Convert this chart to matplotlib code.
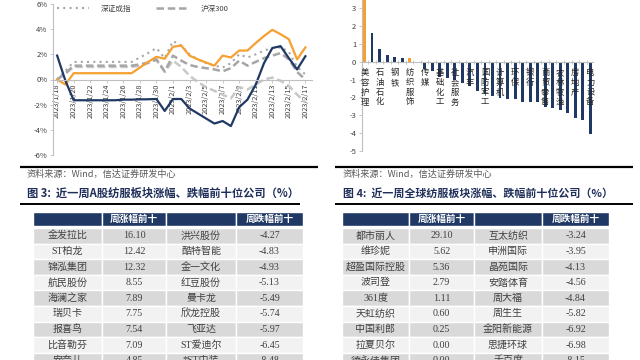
import numpy as np
import pandas as pd
import matplotlib
matplotlib.use('Agg')
import matplotlib.pyplot as plt
from matplotlib.patches import Rectangle
from matplotlib.lines import Line2D
from matplotlib.ticker import FuncFormatter

plt.rcParams['font.family'] = ['Noto Sans CJK SC', 'DejaVu Sans']
plt.rcParams['axes.unicode_minus'] = False

# line chart: cumulative change (%) since 2023/1/18
dates = pd.date_range('2023-01-18', '2023-02-17', freq='D')
navy_line = [1.9, -0.1, -1.65, -1.65, -1.65, -1.65, -1.65, -1.65, -1.6, -1.6, -1.58, -1.57, -1.55,
             -2.5, -1.55, -1.55, -2.3, -2.7, -3.1, -3.5, -3.3, -3.7, -2.2, -1.6, -0.4, 1.3,
             2.5, 2.65, 1.7, 0.8, 1.85]
orange_line = [0.0, -0.4, 0.5, 0.5, 0.5, 0.5, 0.5, 0.5, 0.5, 0.5, 0.95, 1.4, 1.8,
               1.65, 2.6, 2.7, 1.9, 1.6, 1.35, 1.1, 1.9, 1.75, 2.3, 2.3, 2.9, 3.45,
               3.95, 3.6, 3.2, 1.6, 2.55]
szcz = [0.0, 0.7, 1.4, 1.4, 1.4, 1.4, 1.4, 1.4, 1.4, 1.4, 1.75, 2.1, 2.5,
        1.7, 3.05, 2.7, 2.0, 1.6, 1.3, 1.1, 0.95, 1.3, 2.0, 1.75, 2.0, 2.3,
        2.5, 2.55, 2.2, 1.0, 0.4]
hs300 = [0.0, 0.5, 1.1, 1.1, 1.1, 1.1, 1.1, 1.1, 1.1, 1.1, 1.2, 1.35, 1.6,
         0.65, 1.9, 1.5, 1.15, 1.0, 0.9, 0.8, 0.65, 0.9, 1.5, 1.1, 1.4, 1.7,
         1.9, 2.1, 1.6, 0.6, 0.0]
szzs = [0.0, 0.45, 1.0, 1.0, 1.0, 1.0, 1.0, 1.0, 1.0, 1.0, 1.1, 1.3, 1.55,
        0.6, 1.5, 1.0, 0.3, -0.2, -0.6, -0.9, -1.2, -1.5, -0.6, -0.8, -0.4, 0.0,
        0.15, -0.1, -0.5, -1.2, -1.8]

# bar chart: weekly change of SW industries (%)
industries = ['美容护理', '煤炭', '石油石化', '有色金属', '钢铁', '建筑材料', '纺织服饰', '交通运输',
              '传媒', '轻工制造', '基础化工', '建筑装饰', '社会服务', '公用事业', '汽车', '家用电器',
              '国防军工', '非银金融', '计算机', '食品饮料', '环保', '医药生物', '银行', '综合',
              '商贸零售', '电子', '农林牧渔', '机械设备', '房地产', '通信', '电力设备']
industry_chg = [4.2, 1.63, 0.69, 0.37, 0.24, 0.2, 0.22, -0.05, -0.4, -0.5, -0.85, -0.9,
                -1.05, -1.17, -1.37, -1.65, -1.82, -1.93, -2.03, -2.1, -2.12, -2.25,
                -2.29, -2.29, -2.57, -2.59, -2.72, -2.9, -3.15, -3.28, -4.07]
highlight = ['美容护理', '纺织服饰']

# tables
a_up_names = ['金发拉比', 'ST柏龙', '锦泓集团', '航民股份', '海澜之家', '瑞贝卡', '报喜鸟', '比音勒芬', '安奈儿']
a_up_vals = [16.10, 12.42, 12.32, 8.55, 7.89, 7.75, 7.54, 7.09, 4.85]
a_down_names = ['洪兴股份', '酷特智能', '金一文化', '红豆股份', '曼卡龙', '欣龙控股', '飞亚达', 'ST爱迪尔', '*ST中装']
a_down_vals = [-4.27, -4.83, -4.93, -5.13, -5.49, -5.74, -5.97, -6.45, -8.48]
g_up_names = ['都市丽人', '维珍妮', '超盈国际控股', '波司登', '361度', '天虹纺织', '中国利郎', '拉夏贝尔', '德永佳集团']
g_up_vals = [29.10, 5.62, 5.36, 2.79, 1.11, 0.60, 0.25, 0.00, 0.00]
g_down_names = ['互太纺织', '申洲国际', '晶苑国际', '安踏体育', '周大福', '周生生', '金阳新能源', '思捷环球', '千百度']
g_down_vals = [-3.24, -3.95, -4.13, -4.56, -4.84, -5.82, -6.92, -6.98, -8.15]

NAVY = '#1F3864'
ORANGE = '#F5A031'
GRAY = '#A6A6A6'
AXIS = '#BFBFBF'
TXT = '#404040'

fig = plt.figure(figsize=(6.4, 3.6), dpi=100)

# page overlay in pixel coordinates (rules, captions, tables)
bg = fig.add_axes([0, 0, 1, 1])
bg.set_xlim(0, 640)
bg.set_ylim(360, 0)
bg.axis('off')

# ---------- left: line chart ----------
ax1 = fig.add_axes([53 / 640, 1 - 155 / 360, 259 / 640, 151 / 360])
ax1.patch.set_alpha(0)
for s in ['top', 'right']:
    ax1.spines[s].set_visible(False)
# move the x axis to 0 first (this resets the ticks)
ax1.spines['bottom'].set_position(('data', 0))
ax1.spines['bottom'].set_color(AXIS)
ax1.spines['left'].set_color(AXIS)
ax1.spines['left'].set_linewidth(0.8)

x = np.arange(len(dates))
ax1.plot(x, szzs, color='#C8C8C8', lw=1.8, linestyle=(0, (3, 1.5)))
ax1.plot(x, hs300, color=GRAY, lw=1.8, linestyle=(0, (3, 1.5)))
ax1.plot(x, szcz, color=GRAY, lw=1.5, linestyle=(0, (1, 2)))
ax1.plot(x, orange_line, color=ORANGE, lw=1.6)
ax1.plot(x, navy_line, color=NAVY, lw=1.6)
ax1.set_xlim(-0.5, 30.8)
ax1.set_ylim(-6, 6)
ax1.set_yticks(range(-6, 7, 2))
ax1.yaxis.set_major_formatter(FuncFormatter(lambda v, p: f'{int(v)}%'))
ax1.set_xticks(x[::2])
ax1.set_xticklabels([f'{d.year}/{d.month}/{d.day}' for d in dates[::2]], rotation=90)
ax1.tick_params(axis='y', labelsize=5.5, colors=AXIS, labelcolor=TXT, length=2, width=0.6, pad=2)
ax1.tick_params(axis='x', labelsize=5.3, colors=AXIS, labelcolor=TXT, length=2, width=0.6, pad=1)

handles = [Line2D([], [], color=GRAY, lw=1.5, linestyle=(0, (1, 2))),
           Line2D([], [], color=GRAY, lw=1.8, linestyle=(0, (3, 1.5)))]
ax1.legend(handles, ['深证成指', '沪深300'], loc='center left', bbox_to_anchor=(0.015, 0.967),
           ncol=2, frameon=False, fontsize=5.5, handlelength=4.2, handletextpad=1.6,
           columnspacing=3.2, borderpad=0, borderaxespad=0, labelcolor=TXT)

# ---------- right: bar chart ----------
ax2 = fig.add_axes([361.7 / 640, 1 - 150.7 / 360, (593 - 361.7) / 640, 150.7 / 360])
ax2.patch.set_alpha(0)
for s in ['top', 'right']:
    ax2.spines[s].set_visible(False)
ax2.spines['bottom'].set_position(('data', 0))
ax2.spines['bottom'].set_color(AXIS)
ax2.spines['left'].set_color(AXIS)
ax2.spines['left'].set_linewidth(0.8)

bx = np.arange(len(industries))
colors = [ORANGE if n in highlight else NAVY for n in industries]
ax2.bar(bx, industry_chg, width=0.38, color=colors, zorder=2)
ax2.set_xlim(-0.37, 30.35)
ax2.set_ylim(-5, 3.47)
ax2.set_yticks(range(-5, 4))
ax2.set_xticks(np.arange(0.5, 30, 1))
ax2.set_xticklabels([])
ax2.tick_params(axis='y', labelsize=5.5, colors=AXIS, labelcolor=TXT, length=2, width=0.6, pad=2)
ax2.tick_params(axis='x', colors=AXIS, direction='inout', length=3, width=0.6)
for i in range(0, len(industries), 2):
    ax2.text(bx[i], -0.35, '\n'.join(industries[i]), ha='center', va='top',
             fontsize=6, linespacing=1.12, color='#262626', zorder=3)

# ---------- rules and captions ----------
for x0, x1 in [(20, 318), (335, 633)]:
    bg.plot([x0, x1], [167, 167], color='black', lw=1.6, solid_capstyle='butt')
bg.plot([20, 300], [203.5, 203.5], color='black', lw=1.4, solid_capstyle='butt')
bg.plot([335, 633], [204, 204], color='black', lw=1.4, solid_capstyle='butt')

src = '资料来源：Wind，信达证券研发中心'
bg.text(27, 174.5, src, fontsize=6.6, color='#595959', va='center', ha='left')
bg.text(343, 174.5, src, fontsize=6.6, color='#595959', va='center', ha='left')
bg.text(27, 193, '图 3:  近一周A股纺服板块涨幅、跌幅前十位公司（%）', fontsize=8.1,
        fontweight='bold', color='#1F2F5A', va='center', ha='left')
bg.text(343, 193, '图 4:  近一周全球纺服板块涨幅、跌幅前十位公司（%）', fontsize=7.9,
        fontweight='bold', color='#1F2F5A', va='center', ha='left')


# ---------- tables ----------
def draw_table(edges, up_names, up_vals, down_names, down_vals):
    fam = ['Liberation Serif', 'Noto Sans CJK SC']
    top, head_h, row_h = 211.5, 14.5, 15.6
    for c in range(4):
        bg.add_patch(Rectangle((edges[c], top), edges[c + 1] - edges[c], head_h,
                               facecolor=NAVY, edgecolor='white', lw=1))
    for c, t in [(1, '周涨幅前十'), (3, '周跌幅前十')]:
        bg.text((edges[c] + edges[c + 1]) / 2, top + head_h / 2, t, color='white',
                fontsize=6.9, fontweight='bold', ha='center', va='center')
    y0 = top + head_h + 2
    for r in range(len(up_names)):
        fc = '#D9D9D9' if r % 2 == 0 else '#F2F2F2'
        yr = y0 + r * row_h
        cells = [up_names[r], f'{up_vals[r]:.2f}', down_names[r], f'{down_vals[r]:.2f}']
        for c in range(4):
            bg.add_patch(Rectangle((edges[c], yr), edges[c + 1] - edges[c], row_h,
                                   facecolor=fc, edgecolor='white', lw=1))
            bg.text((edges[c] + edges[c + 1]) / 2, yr + row_h / 2, cells[c], color=TXT,
                    fontsize=7.2, family=fam, ha='center', va='center')


draw_table([33, 102, 166, 236, 303], a_up_names, a_up_vals, a_down_names, a_down_vals)
draw_table([342, 409, 474, 542, 609], g_up_names, g_up_vals, g_down_names, g_down_vals)

fig.savefig('out.png', dpi=100)
